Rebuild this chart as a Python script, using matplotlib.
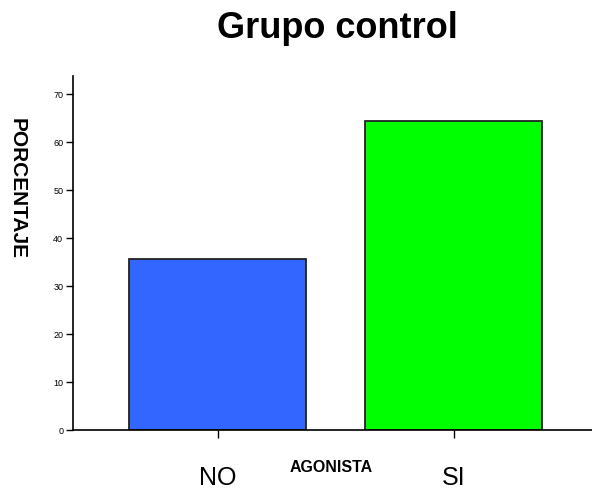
import matplotlib
matplotlib.use("Agg")
import matplotlib.pyplot as plt

categories = ["NO", "SI"]
values = [35.6, 64.4]
colors = ["#3366ff", "#00ff00"]

plt.rcParams['font.family'] = ['Liberation Sans', 'DejaVu Sans']

fig = plt.figure(figsize=(5.92, 4.89), dpi=100)
ax = fig.add_axes([73/592, 1-431/489, 1-73/592, (431-77)/489])

x = range(len(categories))
ax.bar(x, values, width=0.75, color=colors, edgecolor="#222222", linewidth=1.3)

ax.set_xlim(-0.614, 1.585)
ax.set_ylim(0, (431-77)/4.8)
ax.set_yticks(range(0, 71, 10))
ax.set_yticklabels([str(v) for v in range(0, 71, 10)], fontsize=6.5)
ax.set_xticks(list(x))
ax.set_xticklabels(categories, fontsize=18)
ax.tick_params(axis='y', length=5, width=1, pad=2)
ax.tick_params(axis='x', length=6, width=1, pad=19)
for s in ["top", "right"]:
    ax.spines[s].set_visible(False)
for s in ["left", "bottom"]:
    ax.spines[s].set_linewidth(1.2)

fig.text(331.5/592, 1-472/489, "AGONISTA", fontsize=11.5, fontweight="bold", ha="center", va="baseline")
fig.text(17.5/592, 1-189/489, "PORCENTAJE", fontsize=15, fontweight="bold", rotation=-90, ha="center", va="center")
fig.text(337.5/592, 1-38/489, "Grupo control", fontsize=26, fontweight="bold", ha="center", va="baseline")

fig.savefig("out.png", dpi=100)
